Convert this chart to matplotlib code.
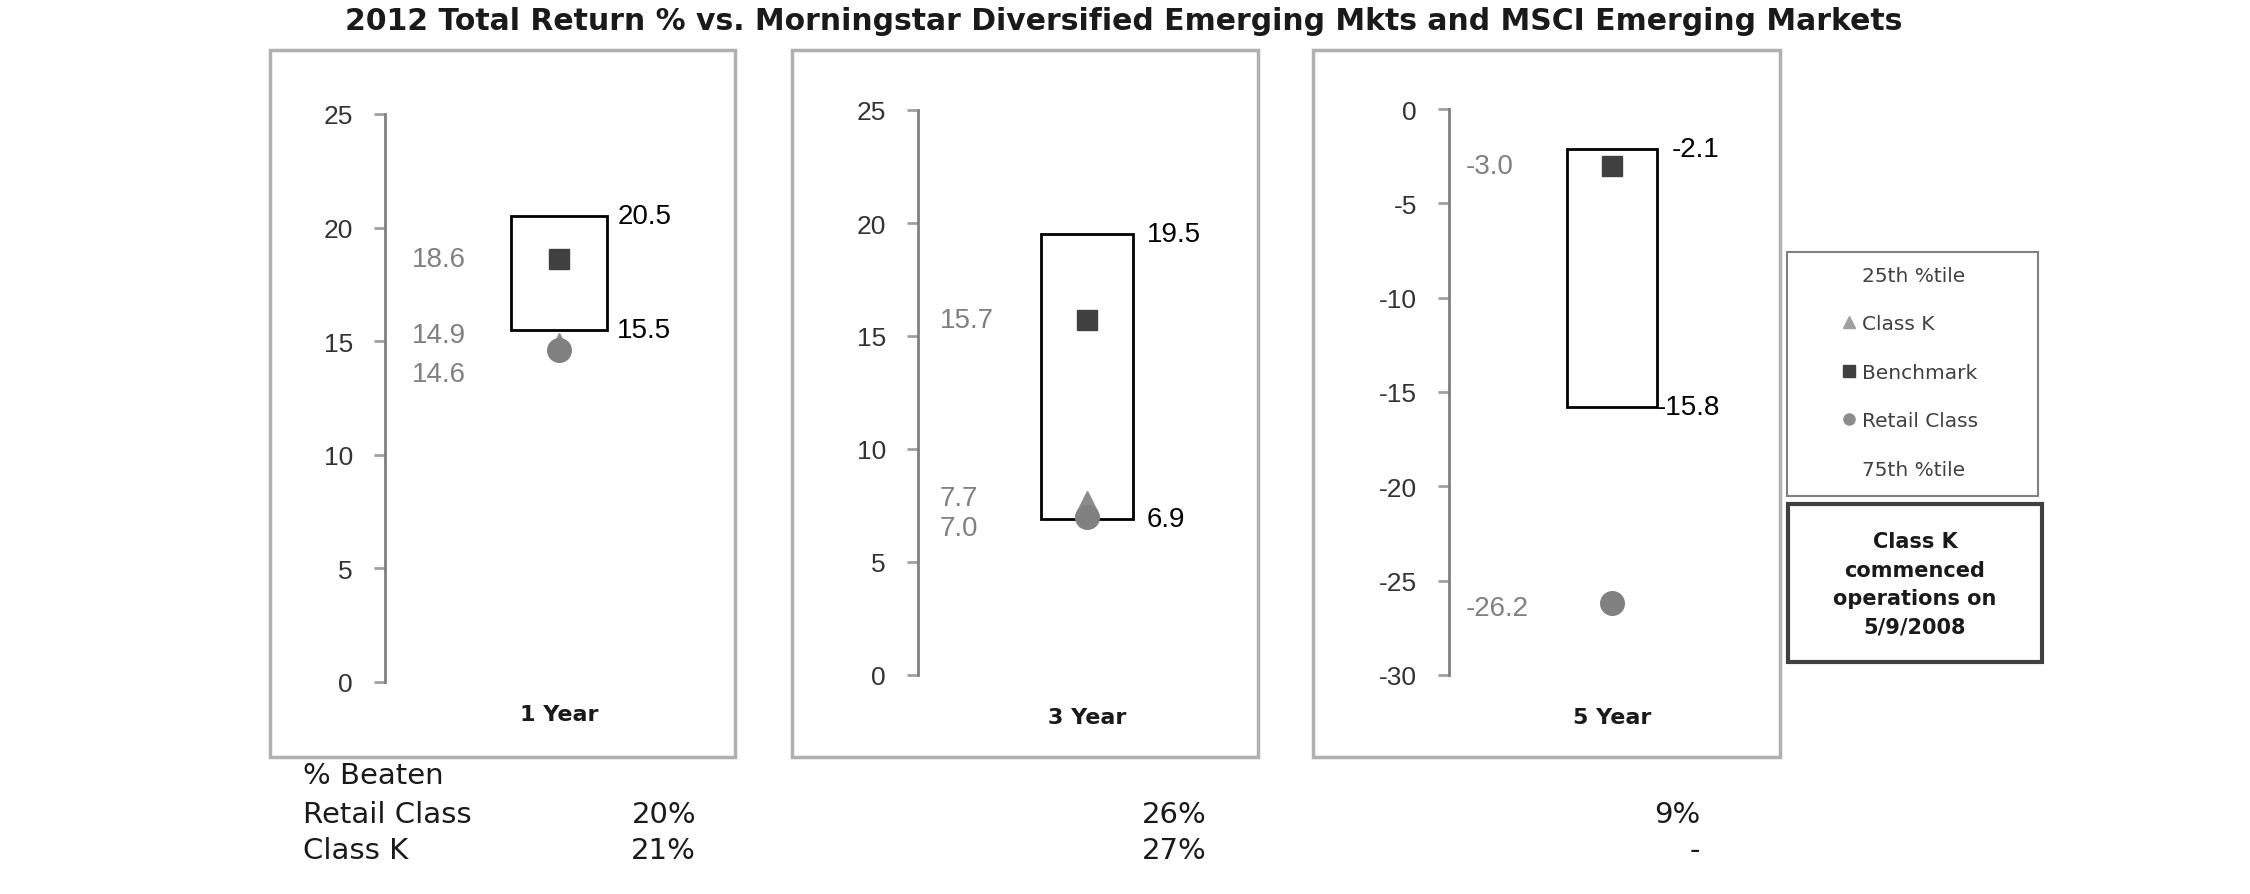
import numpy as np
import matplotlib
matplotlib.use("Agg")
import matplotlib.pyplot as plt
from matplotlib.patches import Rectangle
from matplotlib.lines import Line2D

# --- DATA ---
title = "2012 Total Return % vs. Morningstar Diversified Emerging Mkts and MSCI Emerging Markets"
periods = ['1 Year', '3 Year', '5 Year']
pct25 = [20.5, 19.5, -2.1]      # top of box
pct75 = [15.5, 6.9, -15.8]      # bottom of box
benchmark = [18.6, 15.7, -3.0]
retail = [14.6, 7.0, -26.2]
class_k = [14.9, 7.7, np.nan]   # Class K started 5/9/2008, no 5 year figure
y_limits = [(0, 25), (0, 25), (-30, 0)]

beaten_rows = ['Retail Class', 'Class K']
beaten_retail = ['20%', '26%', '9%']
beaten_k = ['21%', '27%', '-']

legend_labels = ['25th %tile', 'Class K', 'Benchmark', 'Retail Class', '75th %tile']
note = "Class K\ncommenced\noperations on\n5/9/2008"

# --- LAYOUT (pixels of the 2250x895 canvas) ---
W, H = 2250, 895
axes_px = [(385, 115, 733, 683), (918, 111, 1256, 676), (1449, 110, 1775, 676)]
frames_px = [(270, 51, 735, 758), (792, 51, 1258, 758), (1313, 51, 1780, 758)]
xlabel_pad = [16, 23, 23]
left_label_x = [-0.845, -0.87, -0.90]
right_gap = [[0.06, 0.06], [0.08, 0.08], [0.09, 0.0]]
k_nudge = [6.1, 2.2, 0]           # points
retail_nudge = [-17.3, -7.9, -3.6]  # points
beaten_x = [696, 1207, 1700]

GREY_TXT = '#808080'
NUM_FONT = 'Liberation Sans'
NUM_SIZE = 20

plt.rcParams['font.family'] = ['DejaVu Sans']
plt.rcParams['axes.unicode_minus'] = False


def fig_rect(l, t, r, b):
    return [l / W, 1 - b / H, (r - l) / W, (b - t) / H]


def fig_box(l, t, r, b, **kw):
    return Rectangle((l / W, 1 - b / H), (r - l) / W, (b - t) / H,
                     transform=fig.transFigure, fill=False, **kw)


fig = plt.figure(figsize=(W / 100, H / 100), dpi=100)

for i, period in enumerate(periods):
    fig.add_artist(fig_box(*frames_px[i], edgecolor='#b0b0b0', lw=2.5))

    ax = fig.add_axes(fig_rect(*axes_px[i]))
    ax.set_xlim(-1, 1)
    ax.set_ylim(*y_limits[i])

    # interquartile box
    ax.bar(0, pct25[i] - pct75[i], bottom=pct75[i], width=0.55,
           color='white', edgecolor='black', linewidth=2, zorder=2)
    ax.plot(0, class_k[i], ls='none', marker='^', ms=14.5, color='#8c8c8c', zorder=3)
    ax.plot(0, retail[i], ls='none', marker='o', ms=17, color='#808080', zorder=4)
    ax.plot(0, benchmark[i], ls='none', marker='s', ms=15, color='#404040', zorder=5)

    # value labels
    ax.annotate(f"{benchmark[i]:.1f}", (left_label_x[i], benchmark[i]),
                ha='left', va='center', color=GREY_TXT, fontsize=NUM_SIZE, family=NUM_FONT)
    if not np.isnan(class_k[i]):
        ax.annotate(f"{class_k[i]:.1f}", (left_label_x[i], class_k[i]),
                    xytext=(0, k_nudge[i]), textcoords='offset points',
                    ha='left', va='center', color=GREY_TXT, fontsize=NUM_SIZE, family=NUM_FONT)
    ax.annotate(f"{retail[i]:.1f}", (left_label_x[i], retail[i]),
                xytext=(0, retail_nudge[i]), textcoords='offset points',
                ha='left', va='center', color=GREY_TXT, fontsize=NUM_SIZE, family=NUM_FONT)
    ax.text(0.275 + right_gap[i][0], pct25[i], f"{pct25[i]:.1f}",
            ha='left', va='center', color='black', fontsize=NUM_SIZE, family=NUM_FONT)
    ax.text(0.275 + right_gap[i][1], pct75[i], f"{pct75[i]:.1f}",
            ha='left', va='center', color='black', fontsize=NUM_SIZE, family=NUM_FONT)

    # axes styling
    for s in ['top', 'right', 'bottom']:
        ax.spines[s].set_visible(False)
    ax.spines['left'].set_color('#808080')
    ax.spines['left'].set_linewidth(2)
    lo, hi = y_limits[i]
    ax.set_yticks(np.arange(lo, hi + 1, 5))
    ax.tick_params(axis='y', direction='out', length=8, width=2, color='#a0a0a0',
                   pad=15, labelsize=19, labelcolor='#333333')
    for lbl in ax.get_yticklabels():
        lbl.set_family(NUM_FONT)
    ax.set_xticks([0], [period])
    ax.tick_params(axis='x', length=0, pad=xlabel_pad[i], labelsize=16)
    for lbl in ax.get_xticklabels():
        lbl.set_fontweight('bold')
        lbl.set_color('#1a1a1a')
    ax.patch.set_visible(False)

# title
fig.text(1124 / W, 1 - 22 / H, title, ha='center', va='center',
         fontsize=21.5, fontweight='bold', color='#1a1a1a')

# legend panel
fig.add_artist(fig_box(1787, 253, 2038, 497, edgecolor='#808080', lw=1.5))
handles = [
    Line2D([], [], ls='none', marker=None),
    Line2D([], [], ls='none', marker='^', color='#a0a0a0', ms=8),
    Line2D([], [], ls='none', marker='s', color='#404040', ms=8),
    Line2D([], [], ls='none', marker='o', color='#8c8c8c', ms=8),
    Line2D([], [], ls='none', marker=None),
]
fig.legend(handles, legend_labels, loc='upper left',
           bbox_to_anchor=(1842 / W, 1 - 267 / H), frameon=False, fontsize=14.5,
           labelspacing=1.46, handlelength=0.7, handletextpad=0.3,
           borderpad=0, borderaxespad=0, labelcolor='#404040')

# note box
fig.add_artist(fig_box(1788, 505, 2042, 663, edgecolor='#404040', lw=3))
fig.text(1915 / W, 1 - 585 / H, note, ha='center', va='center', fontsize=15,
         fontweight='bold', linespacing=1.53, color='#1a1a1a')

# % beaten table
fig.text(303 / W, 1 - 776 / H, '% Beaten', va='center', fontsize=21, color='#1a1a1a')
for row, vals, y in zip(beaten_rows, [beaten_retail, beaten_k], [815, 851]):
    fig.text(303 / W, 1 - y / H, row, va='center', fontsize=21, color='#1a1a1a')
    for v, x in zip(vals, beaten_x):
        fig.text(x / W, 1 - y / H, v, ha='right', va='center', fontsize=21, color='#1a1a1a')

fig.savefig('out.png', dpi=100, facecolor='white')
